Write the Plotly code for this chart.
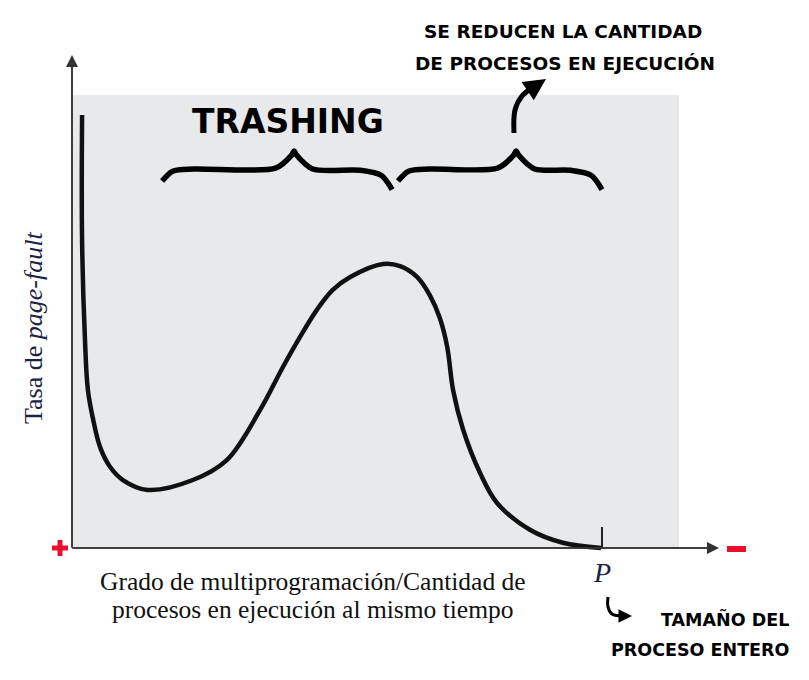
import plotly.graph_objects as go

# ---- data (units: x = degree of multiprogramming, P = 10 ; y = page-fault rate) ----
curve_x = [0.19, 0.19, 0.245, 0.30, 0.40, 0.53, 0.72, 0.96, 1.43, 2.28, 2.92, 3.55, 3.98,
           4.30, 4.62, 4.92, 5.25, 5.87, 6.19, 6.51, 6.75, 6.94, 7.08, 7.19, 7.38, 7.70,
           8.02, 8.64, 9.26, 9.98]
curve_y = [10.0, 7.11, 4.80, 3.65, 2.96, 2.33, 1.87, 1.57, 1.34, 1.57, 2.03, 3.19, 4.18,
           4.87, 5.50, 5.96, 6.26, 6.56, 6.51, 6.26, 5.84, 5.31, 4.64, 3.65, 2.73, 1.73,
           1.04, 0.42, 0.12, 0.0]
P_value = 10.0
brace_start = [1.70, 6.15]
brace_end = [6.04, 10.0]
brace_peak = [4.19, 8.38]
brace_labels = ["TRASHING", ""]

W, H = 809, 680
OFF = 8                        # page body margin
PX_X, PX_Y = 53.0, 43.3        # pixels per data unit
X0_PX, Y0_PX = 72, 548         # screen pixel position of origin


def X(px):
    return (px - X0_PX) / PX_X


def Y(py):
    return (Y0_PX - py) / PX_Y


fig = go.Figure()

# gray plotting region
fig.add_shape(type="rect", x0=0, x1=X(679), y0=0, y1=Y(95),
              fillcolor="#e8e9eb", line=dict(width=0), layer="below")

# P tick
fig.add_shape(type="line", x0=P_value, x1=P_value, y0=0, y1=Y(527),
              line=dict(color="#222", width=2))

# main curve
fig.add_trace(go.Scatter(x=curve_x, y=curve_y, mode="lines",
                         line=dict(color="#111", width=4.5, shape="spline", smoothing=1.0),
                         hoverinfo="skip"))

# braces
yend, ymid, ypk = Y(181), Y(169), Y(151)
for x0, x1, xp in zip(brace_start, brace_end, brace_peak):
    bx = [x0, x0 + 0.2, x0 + 0.6, xp - 0.35, xp - 0.05, xp, xp + 0.05, xp + 0.35, x1 - 0.6, x1 - 0.2, x1]
    by = [yend, ymid - 0.05, ymid, ymid + 0.02, ypk - 0.1, ypk, ypk - 0.1, ymid, ymid - 0.03, ymid - 0.15, yend - 0.2]
    fig.add_trace(go.Scatter(x=bx, y=by, mode="lines",
                             line=dict(color="#000", width=5.5, shape="spline", smoothing=0.8),
                             hoverinfo="skip"))

# curved arrow up from second brace
ax_ = [X(514), X(515), X(522), X(535)]
ay_ = [Y(133), Y(110), Y(96), Y(86)]
fig.add_trace(go.Scatter(x=ax_, y=ay_, mode="lines",
                         line=dict(color="#000", width=5, shape="spline"), hoverinfo="skip"))

# hook arrow bottom right
hx = [X(608), X(608), X(612), X(624)]
hy = [Y(597), Y(607), Y(614), Y(616)]
fig.add_trace(go.Scatter(x=hx, y=hy, mode="lines",
                         line=dict(color="#000", width=3, shape="spline"), hoverinfo="skip"))

annotations = []
# axes with arrows
annotations.append(dict(x=0, y=Y(55), ax=0, ay=0, xref="x", yref="y", axref="x", ayref="y",
                        text="", showarrow=True, arrowhead=2, arrowsize=1.6, arrowwidth=1.5,
                        arrowcolor="#333"))
annotations.append(dict(x=X(719), y=0, ax=0, ay=0, xref="x", yref="y", axref="x", ayref="y",
                        text="", showarrow=True, arrowhead=2, arrowsize=1.6, arrowwidth=1.5,
                        arrowcolor="#333"))
# arrowheads of hand-drawn arrows
annotations.append(dict(x=X(546), y=Y(79), ax=X(534), ay=Y(87), xref="x", yref="y", axref="x",
                        ayref="y", text="", showarrow=True, arrowhead=2, arrowsize=1.1,
                        arrowwidth=4, arrowcolor="#000"))
annotations.append(dict(x=X(632), y=Y(616), ax=X(622), ay=Y(616), xref="x", yref="y", axref="x",
                        ayref="y", text="", showarrow=True, arrowhead=2, arrowsize=0.9,
                        arrowwidth=3, arrowcolor="#000"))

hand = "DejaVu Sans"
annotations.append(dict(x=X(288), y=Y(121), xref="x", yref="y", text=brace_labels[0],
                        showarrow=False, font=dict(family=hand, size=33, color="#000", weight="bold")))
annotations.append(dict(x=X(563), y=Y(31), xref="x", yref="y", text="SE REDUCEN LA CANTIDAD",
                        showarrow=False, font=dict(family=hand, size=18.5, color="#000", weight="bold")))
annotations.append(dict(x=X(565), y=Y(63), xref="x", yref="y", text="DE PROCESOS EN EJECUCIÓN",
                        showarrow=False, font=dict(family=hand, size=18.5, color="#000", weight="bold")))
annotations.append(dict(x=X(791), y=Y(619), xref="x", yref="y", xanchor="right",
                        text="TAMAÑO DEL", showarrow=False,
                        font=dict(family=hand, size=17.5, color="#000", weight="bold")))
annotations.append(dict(x=X(791), y=Y(650), xref="x", yref="y", xanchor="right",
                        text="PROCESO ENTERO", showarrow=False,
                        font=dict(family=hand, size=17.5, color="#000", weight="bold")))

serif = "Liberation Serif, Times New Roman, serif"
annotations.append(dict(x=X(33), y=Y(328), xref="x", yref="y", text="Tasa de <i>page-fault</i>",
                        textangle=-90, showarrow=False,
                        font=dict(family=serif, size=26, color="#1b2340")))
annotations.append(dict(x=X(313), y=Y(581), xref="x", yref="y",
                        text="Grado de multiprogramación/Cantidad de",
                        showarrow=False, font=dict(family=serif, size=25.5, color="#111")))
annotations.append(dict(x=X(313), y=Y(609), xref="x", yref="y",
                        text="procesos en ejecución al mismo tiempo",
                        showarrow=False, font=dict(family=serif, size=25.5, color="#111")))
annotations.append(dict(x=P_value, y=Y(572), xref="x", yref="y", text="<i>P</i>",
                        showarrow=False, font=dict(family=serif, size=28, color="#1b2340")))

fig.update_layout(
    width=W, height=H, autosize=False,
    margin=dict(l=0, r=0, t=0, b=0),
    paper_bgcolor="white", plot_bgcolor="white",
    showlegend=False,
    annotations=annotations,
    xaxis=dict(range=[X(OFF), X(W + OFF)], visible=False, fixedrange=True),
    yaxis=dict(range=[Y(H + OFF), Y(OFF)], visible=False, fixedrange=True),
)
# axis lines
fig.add_shape(type="line", x0=0, x1=0, y0=0, y1=Y(60), line=dict(color="#333", width=1.5))
fig.add_shape(type="line", x0=0, x1=X(714), y0=0, y1=0, line=dict(color="#333", width=1.5))
# red + and - marks
red = "#e8102a"
fig.add_shape(type="line", x0=X(52), x1=X(68), y0=Y(548), y1=Y(548), line=dict(color=red, width=5))
fig.add_shape(type="line", x0=X(60), x1=X(60), y0=Y(540), y1=Y(556), line=dict(color=red, width=5))
fig.add_shape(type="line", x0=X(727), x1=X(746), y0=Y(549), y1=Y(549), line=dict(color=red, width=6))

fig.write_html("out.html")
